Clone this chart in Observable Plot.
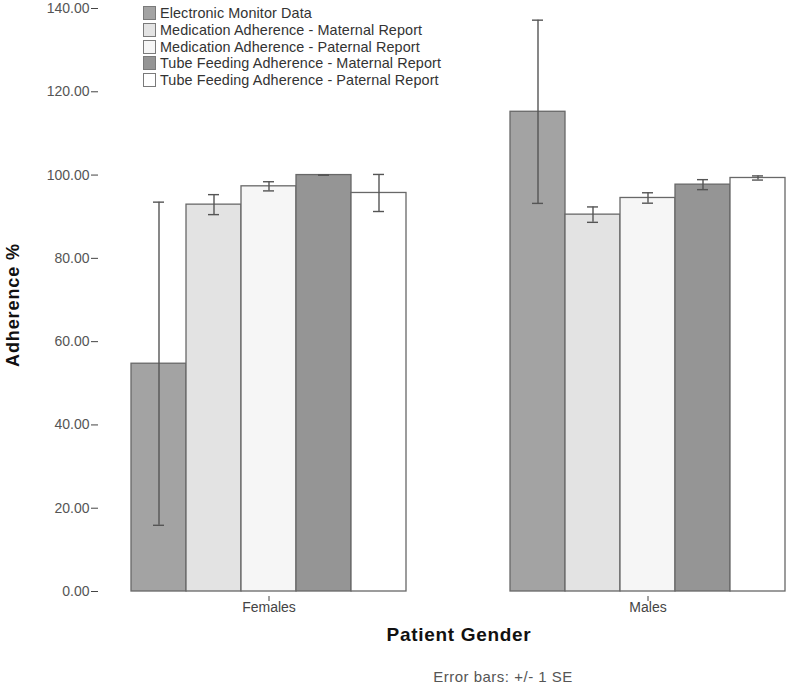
<!DOCTYPE html>
<html>
<head>
<meta charset="utf-8">
<script src="https://cdn.jsdelivr.net/npm/d3@7"></script>
<script src="https://cdn.jsdelivr.net/npm/@observablehq/plot@0.6"></script>
<style>
  body { margin: 0; background: #fff; font-family: "Liberation Sans", Arial, sans-serif; }
  #wrap { position: relative; width: 792px; height: 688px; }
  #legend { position: absolute; left: 143px; top: 5px; font-size: 14.4px; letter-spacing: 0.1px; color: #333; }
  .row { height: 16.7px; display: flex; align-items: center; white-space: nowrap; }
  .sw { width: 11px; height: 12px; border: 1px solid #7a7a7a; margin-right: 4px; flex: none; }
  .ytitle { position: absolute; left: 13px; top: 305px; transform: translate(-50%, -50%) rotate(-90deg); font-weight: bold; font-size: 18px; letter-spacing: 0.9px; color: #111; white-space: nowrap; }
  .xtitle { position: absolute; left: 459px; top: 635px; transform: translate(-50%, -50%); font-weight: bold; font-size: 19px; letter-spacing: 0.7px; color: #111; white-space: nowrap; }
  .caption { position: absolute; left: 503px; top: 676px; transform: translate(-50%, -50%); font-size: 15px; letter-spacing: 0.5px; color: #555; white-space: nowrap; }
</style>
</head>
<body>
<div id="wrap"></div>
<script>
const genders = ["Females", "Males"];
const series = [
  "Electronic Monitor Data",
  "Medication Adherence - Maternal Report",
  "Medication Adherence - Paternal Report",
  "Tube Feeding Adherence - Maternal Report",
  "Tube Feeding Adherence - Paternal Report"
];
const femaleMeans = [54.7, 92.9, 97.3, 100.0, 95.7];
const femaleSE    = [38.8, 2.4, 1.1, 0.0, 4.45];
const maleMeans   = [115.2, 90.5, 94.5, 97.7, 99.3];
const maleSE      = [22.0, 1.85, 1.25, 1.2, 0.5];
const colors = ["#a3a3a3", "#e3e3e3", "#f6f6f6", "#959595", "#ffffff"];
const yTicks = [0, 20, 40, 60, 80, 100, 120, 140];

const means = {Females: femaleMeans, Males: maleMeans};
const ses = {Females: femaleSE, Males: maleSE};
const rows = genders.flatMap(g => series.map((s, i) => ({
  gender: g, series: s, mean: means[g][i],
  lo: means[g][i] - ses[g][i], hi: means[g][i] + ses[g][i]
})));

const chart = Plot.plot({
  width: 792,
  height: 688,
  marginTop: 8,
  marginBottom: 97,
  marginLeft: 128,
  marginRight: 5,
  style: {fontFamily: "'Liberation Sans', Arial, sans-serif", background: "#fff"},
  fx: {domain: genders, paddingInner: 0.265, paddingOuter: 0, label: null},
  x: {domain: series, padding: 0, axis: null},
  y: {domain: [0, 140], label: null},
  color: {domain: series, range: colors},
  marks: [
    Plot.barY(rows, {fx: "gender", x: "series", y: "mean", fill: "series", stroke: "#686868", strokeWidth: 1.3}),
    Plot.ruleX(rows, {fx: "gender", x: "series", y1: "lo", y2: "hi", stroke: "#555", strokeWidth: 1.4}),
    Plot.tickY(rows, {fx: "gender", x: "series", y: "lo", stroke: "#555", strokeWidth: 1.4, insetLeft: 22, insetRight: 22}),
    Plot.tickY(rows, {fx: "gender", x: "series", y: "hi", stroke: "#555", strokeWidth: 1.4, insetLeft: 22, insetRight: 22}),
    Plot.axisY({ticks: yTicks, tickFormat: d => d.toFixed(2), tickSize: 7, tickPadding: 2, dx: -31, label: null, fontSize: 14, color: "#555", stroke: "#444"}),
    Plot.axisFx({anchor: "bottom", tickSize: 5, tickPadding: 1, dy: 5, label: null, fontSize: 14, color: "#444"})
  ]
});

const wrap = document.getElementById("wrap");
wrap.appendChild(chart);

const legend = document.createElement("div");
legend.id = "legend";
series.forEach((s, i) => {
  const r = document.createElement("div");
  r.className = "row";
  const sw = document.createElement("span");
  sw.className = "sw";
  sw.style.background = colors[i];
  const t = document.createElement("span");
  t.textContent = s;
  r.appendChild(sw); r.appendChild(t);
  legend.appendChild(r);
});
wrap.appendChild(legend);

for (const [cls, txt] of [["ytitle", "Adherence %"], ["xtitle", "Patient Gender"], ["caption", "Error bars: +/- 1 SE"]]) {
  const d = document.createElement("div");
  d.className = cls;
  d.textContent = txt;
  wrap.appendChild(d);
}
</script>
</body>
</html>
